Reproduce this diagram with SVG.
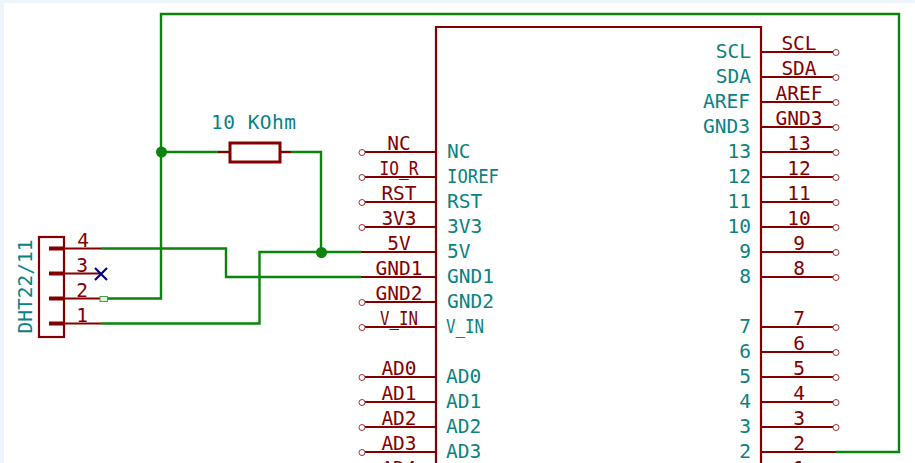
<svg xmlns="http://www.w3.org/2000/svg" width="915" height="463" viewBox="0 0 915 463">
<style>
text{font-family:"DejaVu Sans Mono","Liberation Mono",monospace;font-size:19.500px}
.p{fill:#840000;text-anchor:middle}
.n{fill:#0a8282}
.e{text-anchor:end}
.w{fill:none;stroke:#0a840a;stroke-width:2.400}
.l{fill:none;stroke:#840000;stroke-width:2.200}
.c{fill:#fff;stroke:#a03030;stroke-width:1}
</style>
<defs>
<g id="ol"><path class="l" d="M365 0H436"/><circle class="c" cx="362" cy="0.500" r="3"/></g>
<g id="or"><path class="l" d="M761 0H833"/><circle class="c" cx="836" cy="0.500" r="3"/></g>
</defs>
<rect width="915" height="463" fill="#fff"/>
<path d="M0 0H915V3H4V463H0Z" fill="#eef5fa"/>
<g id="connectors">
<path class="w" d="M101 248.500H226V277H361"/>
<path class="w" d="M104 298.500H161V14H899V452H836"/>
<path class="w" d="M101 323.500H259.500V252H361"/>
<path class="w" d="M161 152H229M281 152H321V252"/>
<circle cx="161.500" cy="152" r="5.500" fill="#0a840a"/>
<circle cx="321.500" cy="252.500" r="5.500" fill="#0a840a"/>
</g>
<g id="connector-dht">
<rect class="l" x="39" y="237" width="25" height="100"/>
<path d="M49 248.500H64M49 273.500H64M49 298.500H64M49 323.500H64" fill="none" stroke="#840000" stroke-width="4"/>
<path class="l" d="M64 248.500H101M64 273.500H101M64 298.500H101M64 323.500H101"/>
<path d="M95 268L107 280M107 268L95 280" fill="none" stroke="#000084" stroke-width="2.200"/>
<rect x="100" y="296.500" width="7.500" height="5" fill="#dfeedd" stroke="#4a9a4a" stroke-width="1"/>
<text class="p" x="83" y="247">4</text>
<text class="p" x="82" y="272">3</text>
<text class="p" x="82" y="297">2</text>
<text class="p" x="82" y="322">1</text>
<text class="n" transform="translate(32 333.500) rotate(-90)">DHT22/11</text>
</g>
<g id="resistor">
<rect x="230" y="143" width="50" height="19" fill="#fff" stroke="#840000" stroke-width="3"/>
<path class="l" d="M218 152H230M280 152H291"/>
<text class="n" x="211" y="129" textLength="85">10 KOhm</text>
</g>
<g id="arduino">
<path class="l" d="M436 463V27H761V463"/>
<use href="#ol" y="152"/><use href="#ol" y="177"/><use href="#ol" y="202"/><use href="#ol" y="227"/>
<path class="l" d="M361 252H436M361 277H436"/>
<use href="#ol" y="302"/><use href="#ol" y="327"/><use href="#ol" y="377"/><use href="#ol" y="402"/><use href="#ol" y="427"/><use href="#ol" y="452"/>
<use href="#or" y="52"/><use href="#or" y="77"/><use href="#or" y="102"/><use href="#or" y="127"/><use href="#or" y="152"/><use href="#or" y="177"/><use href="#or" y="202"/><use href="#or" y="227"/><use href="#or" y="252"/><use href="#or" y="277"/><use href="#or" y="327"/><use href="#or" y="352"/><use href="#or" y="377"/><use href="#or" y="402"/><use href="#or" y="427"/>
<path class="l" d="M761 452H836"/>
<text class="p" x="399" y="150">NC</text><text class="p" x="399" y="175" textLength="39" lengthAdjust="spacingAndGlyphs">IO_R</text><text class="p" x="399" y="200">RST</text><text class="p" x="399" y="225">3V3</text><text class="p" x="399" y="250">5V</text><text class="p" x="399" y="275">GND1</text><text class="p" x="399" y="300">GND2</text><text class="p" x="399" y="325" textLength="38" lengthAdjust="spacingAndGlyphs">V_IN</text><text class="p" x="399" y="375">AD0</text><text class="p" x="399" y="400">AD1</text><text class="p" x="399" y="425">AD2</text><text class="p" x="399" y="450">AD3</text><text class="p" x="399" y="475">AD4</text>
<text class="n" x="447" y="158">NC</text><text class="n" x="447" y="183" textLength="52" lengthAdjust="spacingAndGlyphs">IOREF</text><text class="n" x="447" y="208">RST</text><text class="n" x="447" y="233">3V3</text><text class="n" x="447" y="258">5V</text><text class="n" x="447" y="283">GND1</text><text class="n" x="447" y="308">GND2</text><text class="n" x="446" y="333" textLength="38" lengthAdjust="spacingAndGlyphs">V_IN</text><text class="n" x="446" y="383">AD0</text><text class="n" x="446" y="408">AD1</text><text class="n" x="446" y="433">AD2</text><text class="n" x="446" y="458">AD3</text>
<text class="p" x="799" y="50">SCL</text><text class="p" x="799" y="75">SDA</text><text class="p" x="799" y="100">AREF</text><text class="p" x="799" y="125">GND3</text><text class="p" x="799" y="150">13</text><text class="p" x="799" y="175">12</text><text class="p" x="799" y="200">11</text><text class="p" x="799" y="225">10</text><text class="p" x="799" y="250">9</text><text class="p" x="799" y="275">8</text><text class="p" x="799" y="325">7</text><text class="p" x="799" y="350">6</text><text class="p" x="799" y="375">5</text><text class="p" x="799" y="400">4</text><text class="p" x="799" y="425">3</text><text class="p" x="799" y="450">2</text><text class="p" x="799" y="475">1</text>
<text class="n e" x="751" y="58">SCL</text><text class="n e" x="751" y="83">SDA</text><text class="n e" x="750" y="108">AREF</text><text class="n e" x="750" y="133">GND3</text><text class="n e" x="751" y="158">13</text><text class="n e" x="751" y="183">12</text><text class="n e" x="751" y="208">11</text><text class="n e" x="751" y="233">10</text><text class="n e" x="751" y="258">9</text><text class="n e" x="751" y="283">8</text><text class="n e" x="751" y="333">7</text><text class="n e" x="751" y="358">6</text><text class="n e" x="751" y="383">5</text><text class="n e" x="751" y="408">4</text><text class="n e" x="751" y="433">3</text><text class="n e" x="751" y="458">2</text>
</g>
</svg>
